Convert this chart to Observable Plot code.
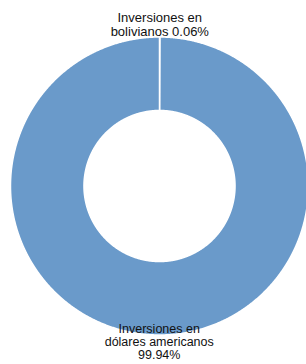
<!DOCTYPE html>
<html><head><meta charset="utf-8">
<script src="https://cdn.jsdelivr.net/npm/d3@7"></script>
<script src="https://cdn.jsdelivr.net/npm/@observablehq/plot@0.6"></script>
<style>html,body{margin:0;padding:0;background:#fff;} svg{display:block;}</style>
</head><body><div id="chart"></div>
<script>
const categories = ["Inversiones en bolivianos", "Inversiones en dólares americanos"];
const values = [0.06, 99.94];
const labelTexts = ["Inversiones en\nbolivianos 0.06%", "Inversiones en\ndólares americanos\n99.94%"];

const W = 306, H = 364, CX = 159, CY = 185.5, R = 149, INNER = 0.507;
const pie = d3.pie().sort(null).value(d => d.value)(categories.map((c, i) => ({name: c, value: values[i], label: labelTexts[i]})));

const ring = [];
for (const s of pie) {
  const n = Math.max(2, Math.ceil((s.endAngle - s.startAngle) / 0.005));
  const pts = d3.range(n + 1).map(k => s.startAngle + (s.endAngle - s.startAngle) * k / n);
  for (const a of pts) ring.push({name: s.data.name, x: Math.sin(a), y: Math.cos(a)});
  for (const a of pts.slice().reverse()) ring.push({name: s.data.name, x: INNER * Math.sin(a), y: INNER * Math.cos(a)});
}
const labels = pie.map(s => {
  const m = (s.startAngle + s.endAngle) / 2;
  const top = Math.cos(m) > 0;
  const r = top ? 1.0 : 0.925;
  return {text: s.data.label, x: r * Math.sin(m), y: r * Math.cos(m), top};
});

const chart = Plot.plot({
  width: W, height: H,
  marginTop: 0, marginRight: 0, marginBottom: 0, marginLeft: 0,
  x: {domain: [-CX / R, (W - CX) / R], range: [0, W], axis: null},
  y: {domain: [CY / R, (CY - H) / R], range: [0, H], axis: null},
  style: {fontFamily: "'Liberation Sans', Arial, sans-serif", background: "#fff"},
  marks: [
    Plot.line(ring, {x: "x", y: "y", z: "name", curve: "linear-closed", fill: "#6a9aca", stroke: "#fff", strokeWidth: 1.5}),
    Plot.text(labels.filter(d => d.top), {x: "x", y: "y", text: "text", lineAnchor: "bottom", dy: -1, fontSize: 13, lineHeight: 1.08, fill: "#111"}),
    Plot.text(labels.filter(d => !d.top), {x: "x", y: "y", text: "text", lineAnchor: "top", fontSize: 12.5, lineHeight: 1.04, fill: "#111"})
  ]
});
document.getElementById("chart").appendChild(chart);
</script></body></html>
